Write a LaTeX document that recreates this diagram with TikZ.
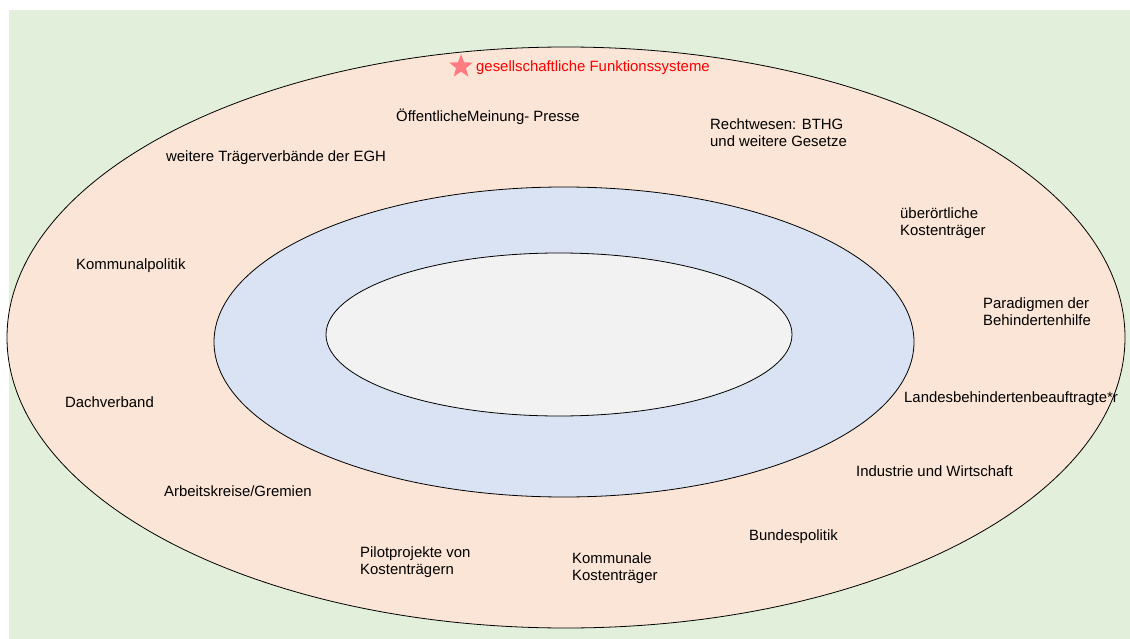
\documentclass[tikz,border=0pt]{standalone}
\usepackage{fontspec}
\setmainfont{Liberation Sans}
\usetikzlibrary{shapes.geometric}
\definecolor{bggreen}{HTML}{E2EFDA}
\definecolor{ringorange}{HTML}{FBE5D6}
\definecolor{ringblue}{HTML}{DAE3F3}
\definecolor{coregrey}{HTML}{F2F2F2}
\definecolor{starred}{HTML}{FF7C80}
\definecolor{titlered}{HTML}{FF0000}
\tikzset{
  lbl/.style={anchor=north west, inner sep=0pt, align=left, font=\fontsize{14.9}{17}\selectfont},
  ring/.style={draw=black, line width=0.8pt},
}
\begin{document}
\begin{tikzpicture}[x=1pt,y=-1pt]
\useasboundingbox (0,0) rectangle (1130,639);
\fill[bggreen] (9,10) rectangle (1130,639);
% Ringe
\draw[ring, fill=ringorange] (566,337.5) ellipse [x radius=559, y radius=290.5];
\draw[ring, fill=ringblue] (564,342) ellipse [x radius=350, y radius=155];
\draw[ring, fill=coregrey] (559,334.5) ellipse [x radius=233, y radius=81.5];
% Titel
\node[star, star points=5, star point ratio=2.4, fill=starred, minimum size=25pt, inner sep=0pt] (stern) at (461,66.5) {};
\node[lbl, text=titlered] (titel) at (476,61) {gesellschaftliche Funktionssysteme};
% Funktionssysteme
\node[lbl] (presse) at (396,109) {ÖffentlicheMeinung- Presse};
\node[lbl] (recht) at (710,119) {Rechtwesen: BTHG\\und weitere Gesetze};
\node[lbl] (traeger) at (166,151) {weitere Trägerverbände der EGH};
\node[lbl] (ueberoertl) at (900,208) {überörtliche\\Kostenträger};
\node[lbl] (kommpol) at (76,259) {Kommunalpolitik};
\node[lbl] (paradigmen) at (983,298) {Paradigmen der\\Behindertenhilfe};
\node[lbl] (landesbeh) at (904,392) {Landesbehindertenbeauftragte*r};
\node[lbl] (dach) at (65,397) {Dachverband};
\node[lbl] (industrie) at (856,466) {Industrie und Wirtschaft};
\node[lbl] (gremien) at (164,486) {Arbeitskreise/Gremien};
\node[lbl] (bundpol) at (749,530) {Bundespolitik};
\node[lbl] (pilot) at (360,546) {Pilotprojekte von\\Kostenträgern};
\node[lbl] (kommkost) at (572,552) {Kommunale\\Kostenträger};
\end{tikzpicture}
\end{document}
